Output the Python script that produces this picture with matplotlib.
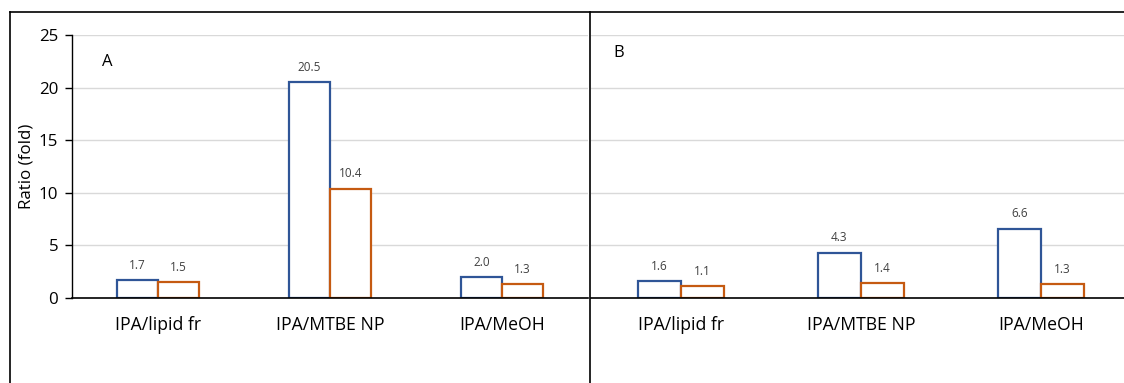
import matplotlib
matplotlib.use("Agg")
import matplotlib.pyplot as plt
from matplotlib.lines import Line2D
import numpy as np

categories = ["IPA/lipid fr", "IPA/MTBE NP", "IPA/MeOH"]
panel_a_blue = [1.7, 20.5, 2.0]
panel_a_orange = [1.5, 10.4, 1.3]
panel_b_blue = [1.6, 4.3, 6.6]
panel_b_orange = [1.1, 1.4, 1.3]
y_ticks = [0, 5, 10, 15, 20, 25]

W, H = 1124, 383
plt.rcParams['font.family'] = ['Open Sans', 'DejaVu Sans']
fig = plt.figure(figsize=(W / 100, H / 100), dpi=100)

BLUE = "#2F5597"
ORANGE = "#C55A11"
GRID = "#D9D9D9"

def px_axes(left, right, top, bottom):
    return fig.add_axes([left / W, 1 - bottom / H, (right - left) / W, (bottom - top) / H])

def draw_panel(ax, blue, orange, show_y):
    x = np.arange(len(categories))
    bw = 0.24
    ax.bar(x - bw / 2, blue, width=bw, facecolor="white", edgecolor=BLUE, linewidth=1.6, zorder=3)
    ax.bar(x + bw / 2, orange, width=bw, facecolor="white", edgecolor=ORANGE, linewidth=1.6, zorder=3)
    for xi, v in zip(x - bw / 2, blue):
        ax.annotate(f"{v:.1f}", (xi, v), xytext=(0, 6), textcoords="offset points",
                    ha="center", va="bottom", fontsize=8.5, color="#404040")
    for xi, v in zip(x + bw / 2, orange):
        ax.annotate(f"{v:.1f}", (xi, v), xytext=(0, 6), textcoords="offset points",
                    ha="center", va="bottom", fontsize=8.5, color="#404040")
    ax.set_xlim(-0.5, len(categories) - 0.5)
    ax.set_ylim(0, 25)
    ax.set_yticks(y_ticks)
    ax.grid(axis="y", color=GRID, linewidth=1.0, zorder=0)
    ax.set_axisbelow(True)
    ax.set_xticks(x)
    ax.set_xticklabels(categories, fontsize=12.7)
    ax.tick_params(axis="x", length=0, pad=13)
    for s in ["top", "right"]:
        ax.spines[s].set_visible(False)
    ax.spines["bottom"].set_color("#000000")
    ax.spines["bottom"].set_linewidth(1.2)
    ax.spines["bottom"].set_zorder(4)
    if show_y:
        ax.spines["left"].set_color("#000000")
        ax.spines["left"].set_linewidth(1.0)
        ax.tick_params(axis="y", length=5, width=1.0, labelsize=12.2, pad=5)
    else:
        ax.spines["left"].set_visible(False)
        ax.tick_params(axis="y", length=0, labelleft=False)
    ax.patch.set_alpha(0)

axA = px_axes(72, 588, 35, 298)
draw_panel(axA, panel_a_blue, panel_a_orange, True)
axA.set_ylabel("Ratio (fold)", fontsize=12.2, labelpad=3)

axB = px_axes(591, 1131, 35, 298)
draw_panel(axB, panel_b_blue, panel_b_orange, False)

fig.text(107 / W, 1 - 62 / H, "A", fontsize=12, ha="center", va="center")
fig.text(619 / W, 1 - 53 / H, "B", fontsize=12, ha="center", va="center")

# outer frame and divider
fig.add_artist(Line2D([10 / W, 10 / W], [0, 1 - 12 / H], color="black", linewidth=1.2, transform=fig.transFigure))
fig.add_artist(Line2D([10 / W, 1], [1 - 12 / H, 1 - 12 / H], color="black", linewidth=1.2, transform=fig.transFigure))
fig.add_artist(Line2D([590 / W, 590 / W], [0, 1 - 12 / H], color="black", linewidth=1.2, transform=fig.transFigure))

fig.savefig("out.png", dpi=100)
